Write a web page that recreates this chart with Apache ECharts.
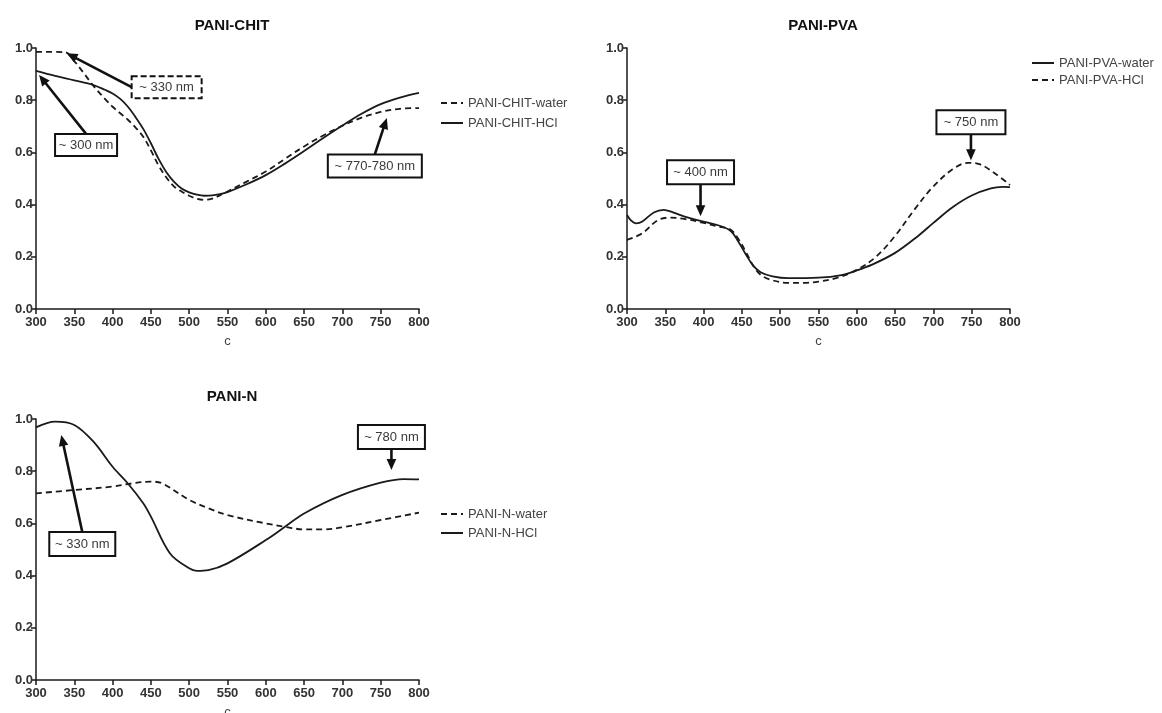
<!DOCTYPE html>
<html>
<head>
<meta charset="utf-8">
<script src="https://cdn.jsdelivr.net/npm/echarts@6/dist/echarts.min.js"></script>
<style>
  html, body { margin: 0; padding: 0; background: #fff; }
  #chart { width: 1162px; height: 713px; }
</style>
</head>
<body>
<div id="chart"></div>
<script>
// UV-Vis absorbance spectra (normalised) of polyaniline composites

// --- PANI-CHIT ---
const chitWaterX = [300, 320, 338, 350, 362, 375, 390, 400, 410, 420, 430, 440, 450, 460, 470, 480, 490, 500, 510, 520, 530, 540, 550, 575, 600, 625, 650, 675, 700, 725, 750, 775, 800];
const chitWaterY = [0.985, 0.985, 0.984, 0.95, 0.905, 0.855, 0.805, 0.775, 0.75, 0.725, 0.695, 0.66, 0.608, 0.55, 0.505, 0.47, 0.45, 0.434, 0.422, 0.418, 0.423, 0.435, 0.45, 0.488, 0.527, 0.575, 0.623, 0.665, 0.702, 0.733, 0.755, 0.767, 0.77];
const chitHclX = [300, 325, 350, 375, 390, 400, 410, 420, 430, 440, 450, 460, 470, 480, 490, 500, 510, 520, 530, 540, 550, 575, 600, 625, 650, 675, 700, 725, 750, 775, 800];
const chitHclY = [0.912, 0.893, 0.876, 0.858, 0.84, 0.826, 0.805, 0.775, 0.735, 0.69, 0.635, 0.575, 0.525, 0.488, 0.462, 0.447, 0.438, 0.434, 0.435, 0.44, 0.448, 0.478, 0.513, 0.557, 0.605, 0.655, 0.703, 0.748, 0.785, 0.81, 0.828];

// --- PANI-PVA ---
const pvaWaterX = [300, 305, 312, 320, 335, 348, 360, 380, 400, 420, 435, 445, 455, 465, 475, 490, 510, 550, 580, 600, 620, 650, 680, 700, 725, 750, 775, 790, 800];
const pvaWaterY = [0.36, 0.34, 0.328, 0.335, 0.37, 0.38, 0.37, 0.35, 0.335, 0.32, 0.3, 0.26, 0.21, 0.165, 0.14, 0.125, 0.118, 0.12, 0.13, 0.148, 0.17, 0.215, 0.28, 0.33, 0.39, 0.435, 0.462, 0.468, 0.467];
const pvaHclX = [300, 320, 340, 355, 375, 400, 420, 435, 445, 455, 465, 475, 490, 510, 530, 550, 575, 600, 625, 650, 675, 700, 725, 745, 760, 780, 800];
const pvaHclY = [0.265, 0.29, 0.34, 0.35, 0.345, 0.33, 0.315, 0.305, 0.27, 0.22, 0.165, 0.13, 0.11, 0.1, 0.1, 0.105, 0.12, 0.15, 0.2, 0.28, 0.38, 0.47, 0.535, 0.56, 0.555, 0.52, 0.475];

// --- PANI-N ---
const nWaterX = [300, 350, 400, 425, 450, 465, 500, 525, 550, 600, 625, 650, 675, 700, 750, 800];
const nWaterY = [0.715, 0.728, 0.741, 0.753, 0.76, 0.753, 0.69, 0.658, 0.632, 0.6, 0.587, 0.577, 0.577, 0.585, 0.613, 0.641];
const nHclX = [300, 325, 350, 375, 400, 420, 440, 450, 475, 500, 510, 525, 550, 600, 625, 650, 700, 750, 780, 800];
const nHclY = [0.968, 0.99, 0.977, 0.913, 0.817, 0.753, 0.677, 0.626, 0.485, 0.428, 0.418, 0.421, 0.447, 0.536, 0.587, 0.638, 0.709, 0.756, 0.77, 0.769];

// Axis ticks
const xTicks = { min: 300, max: 800, step: 50 };
const yTicks = { min: 0, max: 1, step: 0.2 };

// Panel titles and series names
const panelTitles = ['PANI-CHIT', 'PANI-PVA', 'PANI-N'];
const xAxisName = 'c';

// Callouts: wavelength / absorbance the arrow points at
const calloutText = ['~ 330 nm', '~ 300 nm', '~ 770-780 nm', '~ 400 nm', '~ 750 nm', '~ 330 nm', '~ 780 nm'];
const calloutAt = [[340, 0.98], [304, 0.897], [758, 0.732], [396, 0.355], [749, 0.57], [333, 0.939], [764, 0.805]];
const calloutPanel = [0, 0, 0, 1, 1, 2, 2];

// Callout box layout relative to the arrow tip (pixels)
const calloutLayout = [
  { dx: 100, dy: 34, w: 70, h: 22, tail: 'left', dashed: true },
  { dx: 47, dy: 70, w: 62, h: 22, tail: 'top' },
  { dx: -12, dy: 48, w: 94, h: 23, tail: 'top' },
  { dx: 0, dy: -44, w: 67, h: 24, tail: 'bottom' },
  { dx: 0, dy: -38, w: 69, h: 24, tail: 'bottom' },
  { dx: 21, dy: 109, w: 66, h: 24, tail: 'top' },
  { dx: 0, dy: -33, w: 67, h: 24, tail: 'bottom' }
];

const FONT = '"Liberation Sans", Arial, Helvetica, sans-serif';
const INK = '#1a1a1a';

const grids = [
  { left: 36, top: 48, width: 383, height: 261 },
  { left: 627, top: 48, width: 383, height: 261 },
  { left: 36, top: 419, width: 383, height: 261 }
];

function xAxisFor(i) {
  return {
    type: 'value', gridIndex: i, min: xTicks.min, max: xTicks.max, interval: xTicks.step,
    name: xAxisName, nameLocation: 'middle', nameGap: 26,
    nameTextStyle: { fontFamily: FONT, fontSize: 13, color: '#444' },
    axisLine: { lineStyle: { color: INK, width: 1.5 } },
    axisTick: { length: 5, lineStyle: { color: INK, width: 1.5 } },
    axisLabel: { margin: 7, fontFamily: FONT, fontSize: 13, fontWeight: 'bold', color: '#333' },
    splitLine: { show: false }
  };
}
function yAxisFor(i) {
  return {
    type: 'value', gridIndex: i, min: yTicks.min, max: yTicks.max, interval: yTicks.step,
    axisLine: { show: true, lineStyle: { color: INK, width: 1.5 } },
    axisTick: { show: true, length: 5, lineStyle: { color: INK, width: 1.5 } },
    axisLabel: { margin: 3, fontFamily: FONT, fontSize: 13, fontWeight: 'bold', color: '#333',
      formatter: v => v.toFixed(1) },
    splitLine: { show: false }
  };
}

const pairs = (xs, ys) => xs.map((x, i) => [x, ys[i]]);
function line(name, idx, xs, ys, dashed) {
  return {
    name, type: 'line', xAxisIndex: idx, yAxisIndex: idx,
    data: pairs(xs, ys), smooth: 0.35, symbol: 'none', silent: true,
    lineStyle: { color: INK, width: 1.8, type: dashed ? [6, 4] : 'solid' },
    itemStyle: { color: INK }
  };
}

const legendBase = {
  orient: 'vertical', itemWidth: 22, itemHeight: 10,
  itemStyle: { color: 'transparent', borderWidth: 0, opacity: 0 },
  textStyle: { fontFamily: FONT, fontSize: 13, color: '#444', lineHeight: 14 },
  selectedMode: false
};

const chart = echarts.init(document.getElementById('chart'), null, { renderer: 'canvas' });
chart.setOption({
  animation: false,
  backgroundColor: '#fff',
  title: [
    { text: panelTitles[0], left: 227, top: 13, textAlign: 'center', textStyle: { fontFamily: FONT, fontSize: 15, fontWeight: 'bold', color: '#111' } },
    { text: panelTitles[1], left: 818, top: 13, textAlign: 'center', textStyle: { fontFamily: FONT, fontSize: 15, fontWeight: 'bold', color: '#111' } },
    { text: panelTitles[2], left: 227, top: 384, textAlign: 'center', textStyle: { fontFamily: FONT, fontSize: 15, fontWeight: 'bold', color: '#111' } }
  ],
  grid: grids.map(g => Object.assign({ containLabel: false, outerBoundsMode: 'none' }, g)),
  xAxis: [0, 1, 2].map(xAxisFor),
  yAxis: [0, 1, 2].map(yAxisFor),
  legend: [
    Object.assign({}, legendBase, { left: 435, top: 91, itemGap: 6, data: ['PANI-CHIT-water', 'PANI-CHIT-HCl'] }),
    Object.assign({}, legendBase, { left: 1026, top: 51, itemGap: 3, data: ['PANI-PVA-water', 'PANI-PVA-HCl'] }),
    Object.assign({}, legendBase, { left: 435, top: 502, itemGap: 5, data: ['PANI-N-water', 'PANI-N-HCl'] })
  ],
  series: [
    line('PANI-CHIT-water', 0, chitWaterX, chitWaterY, true),
    line('PANI-CHIT-HCl', 0, chitHclX, chitHclY, false),
    line('PANI-PVA-water', 1, pvaWaterX, pvaWaterY, false),
    line('PANI-PVA-HCl', 1, pvaHclX, pvaHclY, true),
    line('PANI-N-water', 2, nWaterX, nWaterY, true),
    line('PANI-N-HCl', 2, nHclX, nHclY, false)
  ]
});

// Arrow from a box edge to a point on the curve
function arrow(tail, tip) {
  const dx = tip[0] - tail[0], dy = tip[1] - tail[1];
  const len = Math.hypot(dx, dy);
  const ux = dx / len, uy = dy / len;
  const headL = 11, headW = 4.8;
  const base = [tip[0] - ux * headL, tip[1] - uy * headL];
  const left = [base[0] - uy * headW, base[1] + ux * headW];
  const right = [base[0] + uy * headW, base[1] - ux * headW];
  return [
    { type: 'line', z: 20, silent: true,
      shape: { x1: tail[0], y1: tail[1], x2: base[0] + ux * 1, y2: base[1] + uy * 1 },
      style: { stroke: '#111', lineWidth: 2.6 } },
    { type: 'polygon', z: 20, silent: true,
      shape: { points: [tip, left, right] }, style: { fill: '#111' } }
  ];
}

const callouts = [];
calloutText.forEach((txt, i) => {
  const tip = chart.convertToPixel({ gridIndex: calloutPanel[i] }, calloutAt[i]);
  const L = calloutLayout[i];
  const cx = tip[0] + L.dx, cy = tip[1] + L.dy;
  const x0 = cx - L.w / 2, y0 = cy - L.h / 2;
  let tail;
  if (L.tail === 'left') tail = [x0, cy];
  else if (L.tail === 'top') tail = [cx, y0];
  else tail = [cx, y0 + L.h];
  callouts.push(...arrow(tail, tip));
  callouts.push({
    type: 'rect', z: 21, silent: true,
    shape: { x: x0, y: y0, width: L.w, height: L.h },
    style: { fill: '#fff', stroke: '#111', lineWidth: 2, lineDash: L.dashed ? [6, 3] : null }
  });
  callouts.push({
    type: 'text', z: 22, silent: true, x: cx, y: cy + 0.5,
    style: { text: txt, font: '13px ' + FONT, fill: '#3a3a3a',
      textAlign: 'center', textVerticalAlign: 'middle', align: 'center', verticalAlign: 'middle' }
  });
});
chart.setOption({ graphic: callouts });
</script>
</body>
</html>
